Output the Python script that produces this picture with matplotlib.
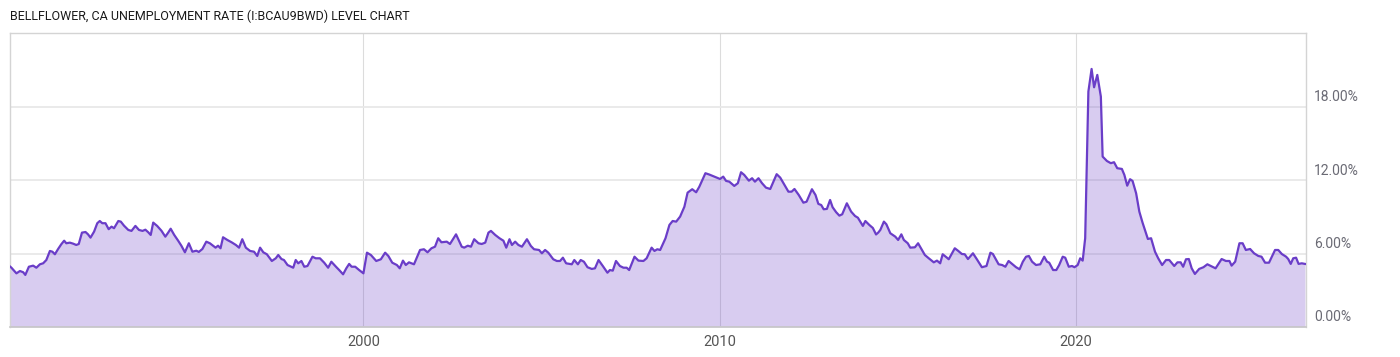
import matplotlib
matplotlib.use("Agg")
import matplotlib.pyplot as plt
from matplotlib.ticker import FixedLocator

TITLE = "BELLFLOWER, CA UNEMPLOYMENT RATE (I:BCAU9BWD) LEVEL CHART"

dates = [
    1990.08, 1990.12, 1990.26, 1990.36, 1990.45, 1990.51, 1990.61, 1990.73, 1990.82, 1990.92,
    1991.01, 1991.10, 1991.20, 1991.27, 1991.34, 1991.43, 1991.52, 1991.60, 1991.66, 1991.76,
    1991.85, 1991.94, 1992.01, 1992.10, 1992.20, 1992.27, 1992.34, 1992.44, 1992.53, 1992.60,
    1992.67, 1992.76, 1992.85, 1992.93, 1993.00, 1993.12, 1993.19, 1993.28, 1993.40, 1993.49,
    1993.60, 1993.70, 1993.80, 1993.88, 1993.96, 1994.03, 1994.10, 1994.21, 1994.33, 1994.44,
    1994.52, 1994.59, 1994.69, 1994.80, 1994.89, 1994.99, 1995.10, 1995.20, 1995.31, 1995.38,
    1995.48, 1995.59, 1995.69, 1995.78, 1995.85, 1995.92, 1995.99, 1996.06, 1996.18, 1996.30,
    1996.42, 1996.51, 1996.60, 1996.70, 1996.82, 1996.93, 1997.02, 1997.10, 1997.19, 1997.29,
    1997.43, 1997.54, 1997.61, 1997.70, 1997.77, 1997.87, 1998.03, 1998.10, 1998.17, 1998.26,
    1998.34, 1998.43, 1998.57, 1998.66, 1998.78, 1998.90, 1999.01, 1999.10, 1999.23, 1999.32,
    1999.43, 1999.52, 1999.60, 1999.67, 1999.77, 1999.88, 2000.00, 2000.10, 2000.21, 2000.36,
    2000.49, 2000.61, 2000.70, 2000.81, 2000.94, 2001.02, 2001.11, 2001.19, 2001.28, 2001.42,
    2001.59, 2001.70, 2001.80, 2001.91, 2002.01, 2002.10, 2002.19, 2002.34, 2002.43, 2002.60,
    2002.76, 2002.83, 2002.93, 2003.02, 2003.11, 2003.23, 2003.32, 2003.42, 2003.51, 2003.58,
    2003.70, 2003.82, 2003.93, 2004.01, 2004.10, 2004.17, 2004.26, 2004.35, 2004.45, 2004.59,
    2004.70, 2004.79, 2004.93, 2005.01, 2005.10, 2005.19, 2005.33, 2005.43, 2005.52, 2005.60,
    2005.69, 2005.85, 2005.92, 2006.02, 2006.10, 2006.19, 2006.29, 2006.41, 2006.50, 2006.60,
    2006.72, 2006.85, 2006.92, 2007.00, 2007.09, 2007.20, 2007.30, 2007.39, 2007.46, 2007.61,
    2007.72, 2007.86, 2007.95, 2008.09, 2008.17, 2008.25, 2008.33, 2008.48, 2008.59, 2008.68,
    2008.78, 2008.89, 2009.01, 2009.10, 2009.23, 2009.34, 2009.43, 2009.60, 2009.71, 2009.85,
    2010.01, 2010.10, 2010.18, 2010.27, 2010.41, 2010.51, 2010.60, 2010.69, 2010.82, 2010.91,
    2010.99, 2011.09, 2011.19, 2011.30, 2011.42, 2011.60, 2011.70, 2011.82, 2011.93, 2012.02,
    2012.10, 2012.22, 2012.35, 2012.44, 2012.59, 2012.69, 2012.77, 2012.85, 2012.92, 2013.01,
    2013.10, 2013.17, 2013.27, 2013.36, 2013.44, 2013.57, 2013.69, 2013.80, 2013.88, 2014.02,
    2014.09, 2014.20, 2014.30, 2014.39, 2014.45, 2014.51, 2014.61, 2014.68, 2014.79, 2014.93,
    2015.01, 2015.10, 2015.17, 2015.28, 2015.35, 2015.48, 2015.57, 2015.68, 2015.76, 2015.87,
    2016.01, 2016.10, 2016.19, 2016.26, 2016.38, 2016.43, 2016.60, 2016.69, 2016.80, 2016.88,
    2016.97, 2017.11, 2017.22, 2017.36, 2017.49, 2017.60, 2017.67, 2017.83, 2017.93, 2018.02,
    2018.11, 2018.21, 2018.32, 2018.42, 2018.51, 2018.60, 2018.68, 2018.77, 2018.88, 2019.00,
    2019.11, 2019.19, 2019.25, 2019.36, 2019.45, 2019.53, 2019.63, 2019.70, 2019.80, 2019.89,
    2019.96, 2020.05, 2020.12, 2020.19, 2020.26, 2020.35, 2020.44, 2020.51, 2020.60, 2020.70,
    2020.75, 2020.87, 2020.98, 2021.07, 2021.16, 2021.29, 2021.36, 2021.44, 2021.52, 2021.59,
    2021.69, 2021.78, 2021.87, 2022.02, 2022.11, 2022.22, 2022.31, 2022.42, 2022.53, 2022.62,
    2022.76, 2022.85, 2022.94, 2023.01, 2023.09, 2023.17, 2023.25, 2023.34, 2023.46, 2023.58,
    2023.69, 2023.79, 2023.92, 2024.09, 2024.21, 2024.31, 2024.37, 2024.47, 2024.59, 2024.68,
    2024.77, 2024.89, 2025.00, 2025.12, 2025.21, 2025.31, 2025.42, 2025.59, 2025.68, 2025.78,
    2025.90, 2025.96, 2026.03, 2026.10, 2026.18, 2026.25, 2026.34, 2026.43,
]

rates = [
    4.95, 4.85, 4.39, 4.58, 4.48, 4.26, 4.93, 5.02, 4.85, 5.13,
    5.21, 5.48, 6.22, 6.16, 5.95, 6.38, 6.77, 7.06, 6.85, 6.90,
    6.82, 6.71, 6.79, 7.72, 7.77, 7.58, 7.31, 7.80, 8.49, 8.67,
    8.49, 8.49, 8.00, 8.21, 8.08, 8.67, 8.62, 8.29, 7.94, 7.86,
    8.27, 7.94, 7.86, 7.96, 7.75, 7.53, 8.54, 8.27, 7.88, 7.39,
    7.72, 8.04, 7.53, 7.06, 6.65, 6.11, 6.85, 6.16, 6.24, 6.14,
    6.38, 6.98, 6.85, 6.65, 6.49, 6.65, 6.44, 7.34, 7.12, 6.93,
    6.71, 6.49, 7.18, 6.49, 6.22, 6.16, 5.81, 6.49, 6.11, 5.95,
    5.40, 5.62, 5.89, 5.56, 5.48, 5.07, 4.85, 5.48, 5.21, 5.40,
    4.93, 4.99, 5.75, 5.62, 5.62, 5.26, 4.85, 5.34, 4.93, 4.66,
    4.31, 4.80, 5.16, 4.93, 4.93, 4.66, 4.39, 6.08, 5.89, 5.40,
    5.54, 6.08, 5.81, 5.26, 5.07, 4.80, 5.43, 5.07, 5.29, 5.13,
    6.30, 6.36, 6.11, 6.44, 6.57, 7.26, 6.93, 6.98, 6.79, 7.58,
    6.57, 6.49, 6.65, 6.57, 7.18, 6.85, 6.79, 6.90, 7.72, 7.86,
    7.53, 7.26, 7.06, 6.49, 7.18, 6.71, 6.98, 6.71, 6.57, 7.18,
    6.63, 6.36, 6.30, 6.03, 6.30, 6.08, 5.54, 5.40, 5.40, 5.67,
    5.21, 5.13, 5.48, 5.13, 5.48, 5.34, 4.89, 4.75, 4.80, 5.48,
    4.99, 4.44, 4.66, 4.61, 5.40, 4.99, 4.85, 4.85, 4.66, 5.75,
    5.43, 5.40, 5.62, 6.49, 6.22, 6.36, 6.30, 7.26, 8.35, 8.67,
    8.62, 9.03, 9.84, 10.99, 11.27, 11.02, 11.48, 12.58, 12.47, 12.30,
    12.11, 12.30, 11.95, 11.89, 11.54, 11.76, 12.66, 12.44, 11.97, 12.17,
    11.89, 12.17, 11.76, 11.40, 11.29, 12.50, 12.22, 11.62, 11.07, 11.07,
    11.29, 10.80, 10.17, 10.25, 11.27, 10.80, 10.07, 9.98, 9.63, 9.66,
    10.39, 9.80, 9.39, 9.11, 9.22, 10.12, 9.44, 9.08, 8.94, 8.27,
    8.67, 8.35, 8.10, 7.57, 7.72, 7.94, 8.62, 8.40, 7.67, 7.39,
    7.12, 7.58, 7.12, 6.85, 6.49, 6.52, 6.85, 6.30, 5.89, 5.62,
    5.29, 5.43, 5.21, 5.95, 5.67, 5.54, 6.44, 6.24, 5.97, 5.95,
    5.56, 6.03, 5.54, 4.89, 4.99, 6.08, 5.97, 5.13, 5.07, 4.93,
    5.40, 5.16, 4.89, 4.72, 5.34, 5.75, 5.81, 5.34, 5.07, 5.13,
    5.75, 5.34, 5.26, 4.66, 4.66, 5.07, 5.75, 5.67, 4.93, 4.99,
    4.89, 5.07, 5.62, 5.43, 7.26, 19.26, 21.11, 19.61, 20.62, 18.85,
    13.94, 13.58, 13.40, 13.48, 12.99, 12.93, 12.44, 11.56, 12.09, 11.95,
    10.94, 9.44, 8.54, 7.20, 7.26, 6.16, 5.62, 5.07, 5.48, 5.48,
    4.99, 5.29, 5.29, 4.93, 5.54, 5.56, 4.80, 4.34, 4.75, 4.89,
    5.13, 4.99, 4.80, 5.56, 5.40, 5.40, 5.02, 5.34, 6.85, 6.85,
    6.30, 6.38, 6.03, 5.81, 5.75, 5.26, 5.26, 6.30, 6.30, 5.97,
    5.75, 5.56, 5.16, 5.62, 5.67, 5.16, 5.21, 5.16,
]

x_ticks = [2000, 2010, 2020]
x_tick_labels = ["2000", "2010", "2020"]
y_ticks = [0, 6, 12, 18]
y_tick_labels = ["0.00%", "6.00%", "12.00%", "18.00%"]

LINE = "#6a3dc8"
GRID = "#e8e8e8"
TEXT = "#6a6a74"

fig = plt.figure(figsize=(14, 3.57), dpi=100)
ax = fig.add_axes([10 / 1400, 1 - 327 / 357, (1305.7 - 10) / 1400, (327 - 33) / 357])

ax.fill_between(dates, rates, 0, color=LINE, alpha=0.26, linewidth=0, zorder=2)
ax.plot(dates, rates, color=LINE, linewidth=1.6, zorder=3, solid_joinstyle="round")

ax.set_xlim(1990.08, 2026.45)
ax.set_ylim(0, 24.05)

ax.xaxis.set_major_locator(FixedLocator(x_ticks))
ax.set_xticklabels(x_tick_labels)
ax.yaxis.set_major_locator(FixedLocator(y_ticks))
ax.set_yticklabels([])
ax.grid(True, axis="y", color=GRID, linewidth=1.3, zorder=1)
ax.grid(True, axis="x", color="#dcdcdc", linewidth=0.8, zorder=1)
ax.tick_params(axis="both", length=0, pad=6, labelsize=10.5, labelcolor="#555555")
ax.tick_params(axis="y", labelleft=False, labelright=False)
for lab in ax.get_xticklabels():
    lab.set_fontfamily("Roboto")

for v, s in zip(y_ticks, y_tick_labels):
    ax.annotate(s, xy=(1, v), xycoords=("axes fraction", "data"), xytext=(6, 7),
                textcoords="offset points", fontsize=10, color=TEXT, family="Roboto",
                ha="left", va="center")

for side in ["left", "top", "right"]:
    ax.spines[side].set_color("#d4d4d4")
    ax.spines[side].set_linewidth(1.0)
ax.spines["bottom"].set_color("#c8c8c8")
ax.spines["bottom"].set_linewidth(1.2)

fig.text(10 / 1400, 1 - 16 / 357, TITLE, fontsize=9.0, color="#1a1a1a",
         family=["Roboto", "DejaVu Sans"], ha="left", va="center")

fig.savefig("out.png", dpi=100, facecolor="white")
